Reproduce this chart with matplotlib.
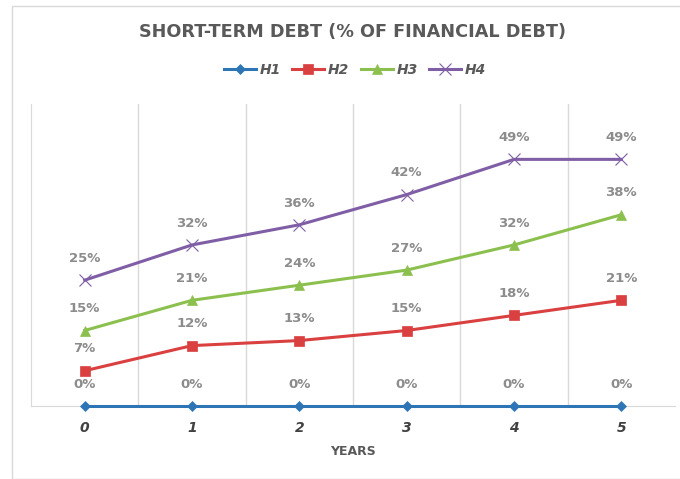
import matplotlib.pyplot as plt
from matplotlib.patches import Rectangle

years = [0, 1, 2, 3, 4, 5]
h1 = [0, 0, 0, 0, 0, 0]
h2 = [7, 12, 13, 15, 18, 21]
h3 = [15, 21, 24, 27, 32, 38]
h4 = [25, 32, 36, 42, 49, 49]

series = [
    ("H1", h1, "#2e75b6", "D", 5.5),
    ("H2", h2, "#d9403f", "s", 7),
    ("H3", h3, "#8cc04e", "^", 7.5),
    ("H4", h4, "#7f5ea6", "x", 9),
]

fig = plt.figure(figsize=(6.8, 4.79), dpi=100)
# outer chart border
fig.patches.append(Rectangle((12 / 680, 0), 1, 1 - 6 / 479, transform=fig.transFigure,
                             fill=False, edgecolor="#d9d9d9", linewidth=1))

ax = fig.add_axes([31 / 680, 73 / 479, 644 / 680, 302 / 479])

for name, vals, col, mk, ms in series:
    ax.plot(years, vals, color=col, marker=mk, markersize=ms, linewidth=2.2,
            markeredgewidth=0.8 if mk == "x" else 0.5, label=name, zorder=3, clip_on=False)
    for x, v in zip(years, vals):
        ax.annotate(f"{v}%", (x, v), xytext=(0, 11), textcoords="offset points",
                    ha="center", va="bottom", fontsize=9.5, fontweight="bold",
                    color="#8c8c8c", zorder=4)

ax.set_xlim(-0.5, 5.5)
ax.set_ylim(0, 60)
ax.set_yticks([])
ax.set_xticks(years)
ax.set_xticklabels([str(y) for y in years], fontsize=10, fontweight="bold",
                   fontstyle="italic", color="#404040")
ax.tick_params(axis="x", length=0, pad=11)

# vertical gridlines between categories
for b in [0.5, 1.5, 2.5, 3.5, 4.5]:
    ax.axvline(b, color="#d9d9d9", linewidth=1, zorder=0)
for side in ["top", "right"]:
    ax.spines[side].set_visible(False)
ax.spines["left"].set_color("#d9d9d9")
ax.spines["bottom"].set_color("#d9d9d9")

ax.set_xlabel("YEARS", fontsize=9, fontweight="bold", color="#595959", labelpad=7)

fig.text(0.518, 1 - 32 / 479, "SHORT-TERM DEBT (% OF FINANCIAL DEBT)", ha="center",
         va="center", fontsize=12.7, fontweight="bold", color="#595959")

leg = fig.legend(loc="center", bbox_to_anchor=(355 / 680, 1 - 70 / 479), ncol=4, frameon=False,
                 handlelength=2.3, columnspacing=0.8, handletextpad=0.3,
                 prop={"size": 10, "weight": "bold", "style": "italic"})
for t in leg.get_texts():
    t.set_color("#595959")

fig.savefig("out.png", dpi=100)
